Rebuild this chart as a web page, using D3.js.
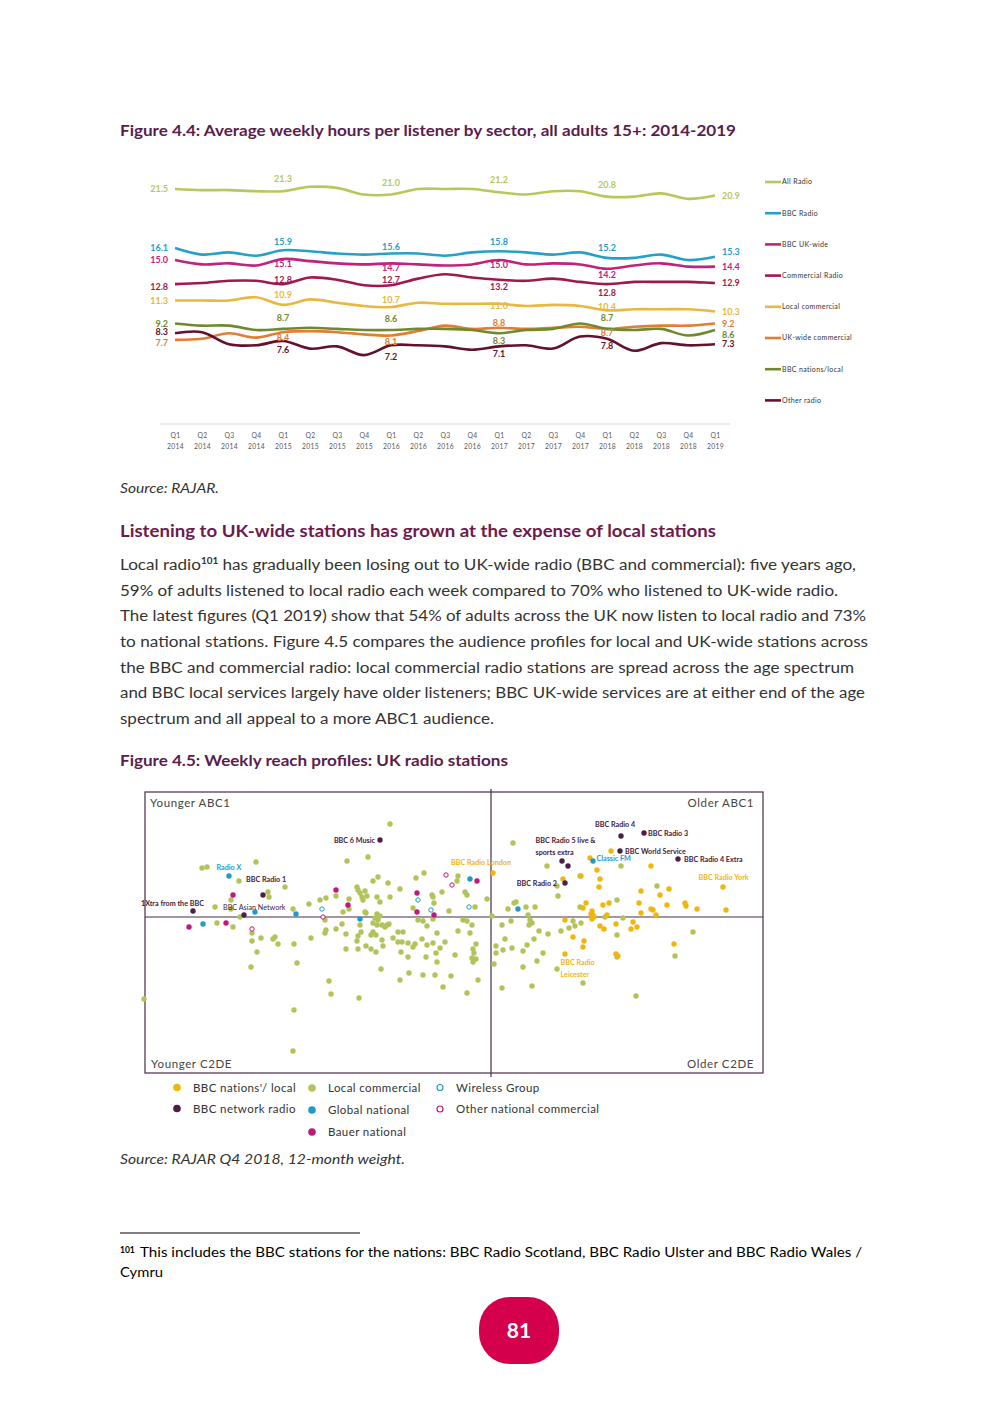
<!DOCTYPE html>
<html>
<head>
<meta charset="utf-8">
<title>Radio listening - figures 4.4 and 4.5</title>
<script src="https://cdnjs.cloudflare.com/ajax/libs/d3/7.8.5/d3.min.js"></script>
<style>
  body { margin: 0; background: #fff; }
  svg { display: block; font-family: Lato, "Open Sans", sans-serif; }
</style>
</head>
<body>
<svg width="992" height="1403"></svg>
<script>
// ---------- Figure 4.4 data ----------
var tickQuarter = ["Q1","Q2","Q3","Q4","Q1","Q2","Q3","Q4","Q1","Q2","Q3","Q4","Q1","Q2","Q3","Q4","Q1","Q2","Q3","Q4","Q1"];
var tickYear = ["2014","2014","2014","2014","2015","2015","2015","2015","2016","2016","2016","2016","2017","2017","2017","2017","2018","2018","2018","2018","2019"];
var seriesNames = ["All Radio","BBC Radio","BBC UK-wide","Commercial Radio","Local commercial","UK-wide commercial","BBC nations/local","Other radio"];
var allRadio   = [21.5,21.4,21.4,21.3,21.3,21.7,21.6,21.0,21.0,21.5,21.5,21.5,21.2,21.0,21.3,21.3,20.8,20.8,21.1,20.6,20.9];
var bbcRadio   = [16.1,15.5,15.7,15.4,15.9,15.8,15.6,15.5,15.6,15.6,15.4,15.7,15.8,15.7,15.5,15.7,15.2,15.2,15.5,15.0,15.3];
var bbcUkWide  = [15.0,14.6,14.7,14.5,15.1,14.9,14.7,14.6,14.7,14.6,14.5,14.6,15.0,14.6,14.7,14.6,14.2,14.5,14.7,14.4,14.4];
var commercial = [12.8,12.9,13.1,13.1,12.8,13.4,13.2,12.7,12.7,13.3,13.7,13.4,13.2,13.1,13.3,13.0,12.8,13.0,13.0,13.0,12.9];
var localComm  = [11.3,11.3,11.3,11.6,10.9,11.4,11.1,10.8,10.7,11.1,11.0,11.0,11.0,10.8,10.9,10.8,10.4,10.5,10.5,10.5,10.3];
var ukComm     = [7.7,7.8,8.3,7.9,8.4,8.5,8.4,8.2,8.1,8.5,9.0,8.7,8.8,8.7,8.8,8.9,8.7,8.9,9.0,9.0,9.2];
var bbcNations = [9.2,9.0,9.0,8.6,8.7,8.8,8.7,8.6,8.6,8.7,8.7,8.6,8.3,8.6,8.7,9.2,8.7,8.6,8.7,8.1,8.6];
var otherRadio = [8.3,8.4,7.3,7.2,7.6,6.9,7.1,6.3,7.2,7.2,7.1,6.8,7.1,7.2,6.9,8.0,7.8,6.7,7.4,7.2,7.3];
var labelledIdx = [0,4,8,12,16,20];

// ---------- Figure 4.5 data (age index x, ABC1 index y) ----------
var scatterCats = ["BBC nations'/ local","BBC network radio","Local commercial","Global national","Bauer national","Wireless Group","Other national commercial"];
var bbcNetworkPts = [[-55.5,38.5],[-114,11],[-149,3],[-123.5,1],[65,40.5],[76.5,42],[35.5,28],[38.5,25.5],[64.5,33],[93.5,29],[37,17]];
var bbcNetworkNames = ["BBC 6 Music","BBC Radio 1","1Xtra from the BBC","BBC Asian Network","BBC Radio 4","BBC Radio 3","BBC Radio 5 live &|sports extra","","BBC World Service","BBC Radio 4 Extra","BBC Radio 2"];
var globalPts = [[-131,20.5],[-118,2.5],[-97.5,1.5],[-65.5,-1],[-144,-3.5],[-10.5,19],[13.5,4],[51,28]];
var globalNames = ["Radio X","","","","","","","Classic FM"];
var bauerPts = [[-129,11],[-77.5,13.5],[-71.5,6],[-37,12],[-37,2.5],[-28.5,1],[-7,18],[-151,-5],[-132.5,-3]];
var wirelessPts = [[-84.5,4],[-36.5,8.5],[-30,3.5],[-11,5]];
var otherNatPts = [[-84,0],[-119.5,-6],[-22.5,21],[-19.5,16]];
var bbcLocalPts = [[1,22],[60,33],[49.5,29.5],[80,25.5],[36,19],[45,20.5],[54.5,19],[54,15],[116,15],[117.5,3.5],
  [103,4],[89,14],[84.5,11],[75,13],[97,7],[97.5,5.5],[88,6],[80,4],[81,3.5],[74,7],[75,2],[59,7],[56,6],
  [47.5,7],[46,4.5],[50.5,3],[50,1.5],[51,1],[51.5,0],[50.5,-1],[58,1],[37,-1.5],[41,-10],[46.5,-12],[46,-15],
  [54.5,-4.5],[56.5,-6],[62.5,-3.5],[71,-2.5],[73,-5],[70,-6],[82.5,1],[37,-18.5],[62.5,-18.5],[63.5,-19.5],
  [91.5,-13.5],[53,23.5]];
var bbcLocalNames = ["BBC Radio London","","","","","","","","BBC Radio York"];
var localCommPts = [[-50.5,46.5],[-72,28],[-61.5,30],[-117.5,27.5],[-144.5,24.5],[-142,25],[-126,18],[-103,15],
  [-111.5,12.5],[-111,10],[-130,8.5],[-130,4],[-138,5],[-125.5,0],[-99,4],[-91,6.5],[-85.5,8.5],[-82.5,9.5],
  [-77.5,10.5],[-71,9],[-67,15],[-66.5,13.5],[-65.5,12],[-64.5,10],[-64,8.5],[-63,13],[-62,10.5],[-59,18],
  [-56.5,20],[-51.5,17],[-57,10],[-55.5,7.5],[-50.5,10],[-45.5,14],[-37.5,19.5],[-33.5,22],[-29,10],[-24.5,12.5],
  [-21,3],[-137,-3],[-129,-5],[-71,4],[-74,2.5],[-83,-1.5],[-63,2.5],[-62.5,2],[-57,1.5],[-55.5,0.5],[-58,-0.5],
  [-56.5,-1.5],[-59,-3],[-57,-4],[-54.5,-4],[-39,4.5],[-16.5,20.5],[-17,18],[-13,12.5],[-12,11],[-8,5],[-2,9],
  [-29.5,11],[-28.5,7],[11,37],[28,25.5],[65,25.5],[33,15.5],[33.5,10.5],[44.5,20.5],[83,15.5],[11.5,7],[12.5,7.5],
  [17.5,5],[22,5],[8.5,4],[44.5,5],[63,8.5],[57,0],[66,-0.5],[0.5,0.5],[18.5,1],[19.5,-1.5],[20.5,-3],[19,-4],
  [10,-2],[5.5,-4],[41,-2],[42,-4.5],[45,-3],[39,-5.5],[101,-7.5],[63,-9],[35,-7],[28.5,-8.5],[24,-7],[21.5,-11],
  [7,-11],[2.5,-14.5],[6,-16.5],[10.5,-15.5],[2.5,-18],[16,-17],[18,-14],[26,-18],[23,-22],[92,-19.5],[1.5,-23.5],
  [16,-25],[33,-26],[5.5,-35.5],[20.5,-34.5],[46,-33],[72.5,-39.5],[63,-20],
  [-119.5,-8],[-119.5,-12],[-115,-10.5],[-109,-11],[-108,-10],[-106.5,-13.5],[-117,-17.5],[-120,-25],[-98.5,-13.5],
  [-97,-23],[-173.5,-41],[-98.5,-46.5],[-99,-67],[-90,-10.5],[-82.5,-6.5],[-83,-8],[-81,-32],[-80,-38.5],[-74.5,-3.5],
  [-72.5,-8.5],[-72.5,-16],[-66.5,-16],[-66,-40.5],[-65,-7.5],[-65.5,-4],[-62.5,-14.5],[-60,-16],[-57.5,-17.5],
  [-59,-7.5],[-60,-9],[-57.5,-9],[-54.5,-11.5],[-54,-14.5],[-55,-26],[-52,-4],[-51,-3.5],[-53,-5],[-49,-10.5],
  [-46.5,-12.5],[-44.5,-12.5],[-46.5,-7.5],[-44,-7.5],[-45,-17.5],[-41.5,-20],[-39,-15],[-38,-13.5],[-45.5,-31.5],
  [-41,-28],[-34,-29],[-34.5,-11],[-32.5,-20],[-32,-4.5],[-27.5,-18],[-25.5,-15.5],[-27,-22.5],[-23,-12.5],[-18,-19],
  [-20,-29.5],[-24,-35],[-16.5,-7],[-36.5,-1.5],[-34,-2],[-29,-1],[-14,-1.5],[-10.5,-8],[-12,-2],[-9.5,-4],
  [-7.5,-13.5],[-9,-16],[-8.5,-18],[-9.5,-20.5],[-9,-22.5],[-7.5,-21],[-12,-38],[-6.5,-31.5],[-77.5,-6],
  [-41.5,-13],[-32,-14],[-29,-13],[-27,-8],[-28,-29],[-66.5,-9.5],[-67,-12]];

// ---------- helpers ----------
var svg = d3.select("svg");
var textCol = "#333333";

function line(x, y, str, o) {
  o = o || {};
  var t = svg.append("text").attr("x", x).attr("y", y)
    .attr("font-size", o.size || 15)
    .attr("font-weight", o.weight || "normal")
    .attr("font-style", o.style || "normal")
    .attr("fill", o.fill || textCol)
    .text(str);
  if (o.len) t.attr("textLength", o.len).attr("lengthAdjust", "spacingAndGlyphs");
  return t;
}

// ---------- Figure 4.4 ----------
line(120, 136, "Figure 4.4: Average weekly hours per listener by sector, all adults 15+: 2014-2019",
  {size: 14.5, weight: "bold", fill: "#5a1d4c", len: 616});

var periods = tickQuarter.map(function(q, i) { return q + " " + tickYear[i]; });
var colors = ["#b6c958","#25a1c8","#c2217c","#a0194d","#e8b841","#e27d32","#6f8a2e","#64102f"];
var seriesVals = [allRadio, bbcRadio, bbcUkWide, commercial, localComm, ukComm, bbcNations, otherRadio];

var x = d3.scalePoint().domain(periods).range([175, 715]);
var y = d3.scaleLinear().domain([0, 25]).range([424, 150.75]);

var chart = svg.append("g").attr("class", "fig44");

chart.append("line").attr("x1", 160).attr("x2", 730).attr("y1", 424).attr("y2", 424)
  .attr("stroke", "#d9d9d9").attr("stroke-width", 1);

var gx = chart.append("g").attr("transform", "translate(0,424)")
  .call(d3.axisBottom(x).tickSize(0));
gx.select(".domain").remove();
gx.attr("font-family", null).attr("font-size", null);
gx.selectAll(".tick text").each(function(d, i) {
  var t = d3.select(this).attr("dy", null).attr("y", null).text(null)
    .attr("font-size", 6.8).attr("fill", "#595959").attr("letter-spacing", 0.3);
  t.append("tspan").attr("x", 0).attr("y", 13.5).text(tickQuarter[i]);
  t.append("tspan").attr("x", 0).attr("y", 24.5).text(tickYear[i]);
});

var lineGen = d3.line()
  .x(function(d, i) { return x(periods[i]); })
  .y(function(d) { return y(d); })
  .curve(d3.curveCatmullRom.alpha(0.5));

chart.selectAll(".series").data(seriesVals).enter().append("path")
  .attr("class", "series")
  .attr("fill", "none")
  .attr("stroke", function(d, i) { return colors[i]; })
  .attr("stroke-width", 2.6)
  .attr("d", lineGen);

// label offsets (px) for the Q1 2015..Q1 2018 value labels
var midShift = [[-12,-12,-12,-12],[-8,-7,-9,-10],[5,5,5,6],[-4,-5,7.5,9],[-10,-7,2,-3],[6,6.5,-5,4],[-11,-11,7.5,-11],[9,11.5,7.5,7]];
var leftShift = [0,0,0,3,0,3,0,-1];
var rightShift = [0,-5,0,0,0,0,5,0];

seriesVals.forEach(function(vals, s) {
  labelledIdx.forEach(function(idx, k) {
    var px = x(periods[idx]), py = y(vals[idx]), anchor = "middle";
    if (k === 0) { px = 168; anchor = "end"; py += leftShift[s]; }
    else if (k === labelledIdx.length - 1) { px = 722; anchor = "start"; py += rightShift[s]; }
    else { py += midShift[s][k - 1]; }
    chart.append("text").attr("x", px).attr("y", py).attr("dy", "0.35em")
      .attr("text-anchor", anchor).attr("font-size", 9).attr("font-weight", "bold")
      .attr("fill", colors[s]).text(vals[idx].toFixed(1));
  });
});

var leg = chart.selectAll(".leg").data(seriesNames).enter().append("g")
  .attr("transform", function(d, i) { return "translate(765," + (182 + i * 31.2) + ")"; });
leg.append("line").attr("x1", 0).attr("x2", 16).attr("stroke", function(d, i) { return colors[i]; })
  .attr("stroke-width", 2.6);
leg.append("text").attr("x", 17).attr("dy", "0.35em").attr("font-size", 7).attr("letter-spacing", 0.35)
  .attr("fill", textCol).text(function(d) { return d; });

line(120, 493, "Source: RAJAR.", {size: 13.5, style: "italic", len: 99});

// ---------- text ----------
line(120, 537, "Listening to UK-wide stations has grown at the expense of local stations",
  {size: 17, weight: "bold", fill: "#6e1a4c", len: 596});

var p1 = line(120, 570, "Local radio", {size: 15.5, len: 736});
p1.append("tspan").attr("font-size", 9).attr("font-weight", "bold").attr("dy", -6).text("101");
p1.append("tspan").attr("dy", 6).text(" has gradually been losing out to UK-wide radio (BBC and commercial): five years ago,");
line(120, 596, "59% of adults listened to local radio each week compared to 70% who listened to UK-wide radio.", {size: 15.5, len: 718});
line(120, 621, "The latest figures (Q1 2019) show that 54% of adults across the UK now listen to local radio and 73%", {size: 15.5, len: 746});
line(120, 647, "to national stations.  Figure 4.5 compares the audience profiles for local and UK-wide stations across", {size: 15.5, len: 748});
line(120, 673, "the BBC and commercial radio: local commercial radio stations are spread across the age spectrum", {size: 15.5, len: 734});
line(120, 698, "and BBC local services largely have older listeners; BBC UK-wide services are at either end of the age", {size: 15.5, len: 745});
line(120, 724, "spectrum and all appeal to a more ABC1 audience.", {size: 15.5, len: 374});

// ---------- Figure 4.5 ----------
line(120, 766, "Figure 4.5: Weekly reach profiles: UK radio stations", {size: 14.5, weight: "bold", fill: "#5a1d4c", len: 388});

var xs = d3.scaleLinear().domain([-173, 136]).range([145, 763]);
var ys = d3.scaleLinear().domain([-78, 62.5]).range([1073, 792]);
var frame = "#4a2c48";
var sc = svg.append("g").attr("class", "fig45");

sc.append("rect").attr("x", xs(-173)).attr("y", ys(62.5)).attr("width", xs(136) - xs(-173))
  .attr("height", ys(-78) - ys(62.5)).attr("fill", "none").attr("stroke", frame).attr("stroke-width", 1.2);
sc.append("line").attr("x1", xs(0)).attr("x2", xs(0)).attr("y1", 789).attr("y2", 1077)
  .attr("stroke", frame).attr("stroke-width", 1.2);
sc.append("line").attr("x1", xs(-173)).attr("x2", xs(136)).attr("y1", ys(0)).attr("y2", ys(0))
  .attr("stroke", frame).attr("stroke-width", 1.2);

var cornerStyle = {size: 11.5, fill: "#444"};
line(150, 807, "Younger ABC1", cornerStyle).attr("letter-spacing", 0.6);
line(754, 807, "Older ABC1", cornerStyle).attr("letter-spacing", 0.6).attr("text-anchor", "end");
line(151, 1068, "Younger C2DE", cornerStyle).attr("letter-spacing", 0.6);
line(754, 1068, "Older C2DE", cornerStyle).attr("letter-spacing", 0.6).attr("text-anchor", "end");

var catColors = ["#f1b60d","#4b1f48","#b2c35a","#1f9bc9","#c1187a","#1f9bc9","#c1187a"];
var catPts = [bbcLocalPts, bbcNetworkPts, localCommPts, globalPts, bauerPts, wirelessPts, otherNatPts];
var drawOrder = [2, 0, 3, 4, 5, 6, 1];

drawOrder.forEach(function(c) {
  var open = c >= 5;
  sc.selectAll(".pt" + c).data(catPts[c]).enter().append("circle")
    .attr("class", "pt" + c)
    .attr("cx", function(d) { return xs(d[0]); })
    .attr("cy", function(d) { return ys(d[1]); })
    .attr("r", open ? 2.2 : 2.7)
    .attr("fill", open ? "#fff" : catColors[c])
    .attr("stroke", open ? catColors[c] : "none")
    .attr("stroke-width", 1);
});

// station annotations: offsets from their point in px
var labelOffsets = {
  "BBC 6 Music": [-5, 0, "end"], "BBC Radio 1": [-17, -16, "start"], "1Xtra from the BBC": [-52, -7.5, "start"],
  "BBC Asian Network": [-21, -8, "start"], "BBC Radio 4": [-26, -11.5, "start"], "BBC Radio 3": [4, 0, "start"],
  "BBC Radio 5 live &|sports extra": [-26.5, -20.5, "start"], "BBC World Service": [5, 0.5, "start"],
  "BBC Radio 4 Extra": [6, 0, "start"], "BBC Radio 2": [-8, 0, "end"], "Radio X": [-12.5, -9, "start"],
  "Classic FM": [3.5, -2.5, "start"], "BBC Radio London": [-42, -10.5, "start"], "BBC Radio York": [-24.5, -10, "start"],
  "BBC Radio|Leicester": [-4.5, 8.5, "start"]
};
function annotate(pts, names, col) {
  names.forEach(function(n, i) {
    if (!n) return;
    var o = labelOffsets[n];
    var t = sc.append("text").attr("x", xs(pts[i][0]) + o[0]).attr("y", ys(pts[i][1]) + o[1])
      .attr("dy", "0.35em").attr("text-anchor", o[2]).attr("font-size", 7.2)
      .attr("font-weight", n === "BBC Asian Network" ? "normal" : "bold").attr("fill", col);
    n.split("|").forEach(function(part, k) {
      t.append("tspan").attr("x", xs(pts[i][0]) + o[0]).attr("dy", k === 0 ? "0.35em" : 11.5).text(part);
    });
  });
}
annotate(bbcNetworkPts, bbcNetworkNames, "#3f1a3c");
annotate(globalPts, globalNames, "#1f9bc9");
annotate(bbcLocalPts, bbcLocalNames, "#f1b60d");
var leicesterNames = bbcLocalPts.map(function(d, i) { return i === 42 ? "BBC Radio|Leicester" : ""; });
annotate(bbcLocalPts, leicesterNames, "#f1b60d");

// legend
var legPos = [[177, 1087.5],[177, 1108.5],[312, 1088],[312, 1110],[312, 1132],[440, 1087.5],[440, 1109]];
scatterCats.forEach(function(name, c) {
  var open = c >= 5;
  sc.append("circle").attr("cx", legPos[c][0]).attr("cy", legPos[c][1]).attr("r", open ? 3 : 3.8)
    .attr("fill", open ? "#fff" : catColors[c]).attr("stroke", open ? catColors[c] : "none").attr("stroke-width", 1.2);
  sc.append("text").attr("x", legPos[c][0] + 16).attr("y", legPos[c][1]).attr("dy", "0.35em")
    .attr("font-size", 11.5).attr("letter-spacing", 0.4).attr("fill", textCol).text(name);
});

line(120, 1164, "Source: RAJAR Q4 2018, 12-month weight.", {size: 13.5, style: "italic", len: 285});

// ---------- footnote & page number ----------
svg.append("line").attr("x1", 120).attr("x2", 360).attr("y1", 1233).attr("y2", 1233)
  .attr("stroke", "#000").attr("stroke-width", 1);
line(120, 1253, "101", {size: 8.5, weight: "bold", fill: "#000"});
line(140, 1257, "This includes the BBC stations for the nations: BBC Radio Scotland, BBC Radio Ulster and BBC Radio Wales /",
  {size: 13.5, fill: "#000", len: 722});
line(120, 1277, "Cymru", {size: 13.5, fill: "#000", len: 43});

svg.append("rect").attr("x", 479).attr("y", 1297).attr("width", 80).attr("height", 67).attr("rx", 31)
  .attr("fill", "#d5004b");
svg.append("text").attr("x", 519).attr("y", 1331).attr("dy", "0.35em").attr("text-anchor", "middle")
  .attr("font-size", 21).attr("font-weight", "bold").attr("fill", "#fff").text("81");
</script>
</body>
</html>
